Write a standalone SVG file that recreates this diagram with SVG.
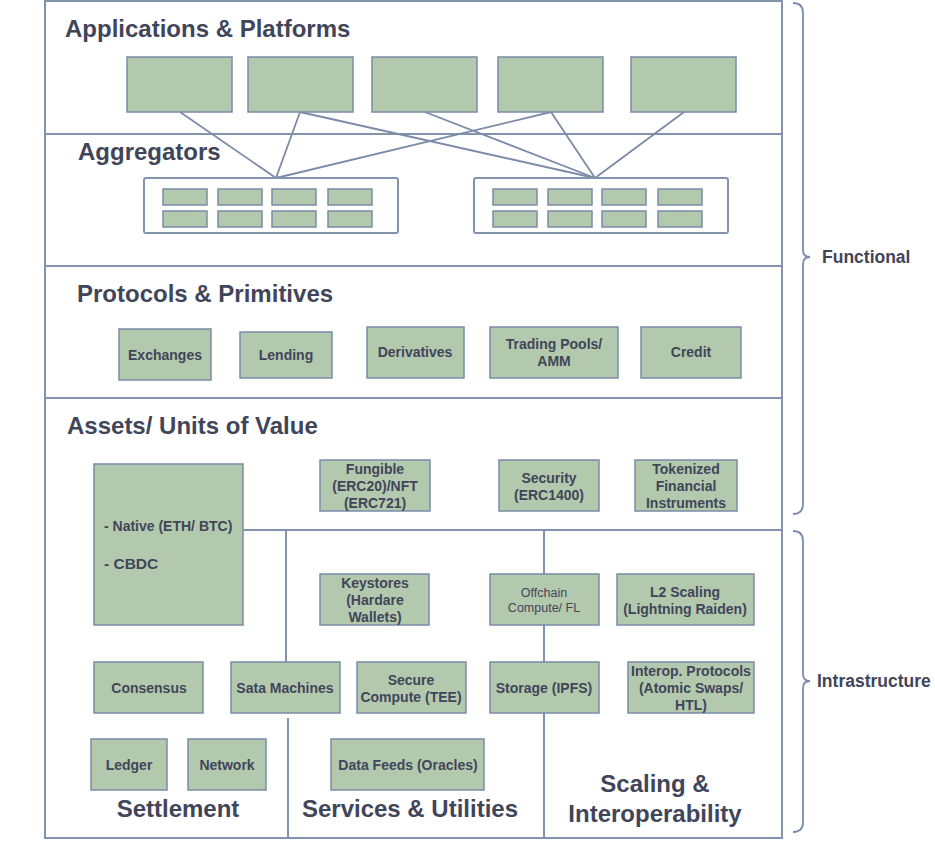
<svg xmlns="http://www.w3.org/2000/svg" width="935" height="844" viewBox="0 0 935 844">
<style>
.frame{fill:none;stroke:#8393ad;stroke-width:2}
.box{fill:#b3c9ad;stroke:#7b8ba8;stroke-width:1.5}
.cont{fill:#fff;stroke:#8393ad;stroke-width:2}
.ln{fill:none;stroke:#7b8ba8;stroke-width:1.8}
.h{font-family:"Liberation Sans",Arial,sans-serif;font-weight:bold;font-size:24px;fill:#41455a}
.t{font-family:"Liberation Sans",Arial,sans-serif;font-weight:bold;font-size:14px;fill:#41455a;text-anchor:middle}
.n{font-family:"Liberation Sans",Arial,sans-serif;font-size:12.5px;fill:#41455a;text-anchor:middle}
.s{font-family:"Liberation Sans",Arial,sans-serif;font-weight:bold;font-size:24px;fill:#41455a;text-anchor:middle}
.side{font-family:"Liberation Sans",Arial,sans-serif;font-weight:bold;font-size:17.5px;fill:#41455a}
</style>
<rect width="935" height="844" fill="#fff"/>
<g id="frame">
<rect class="frame" x="45" y="1" width="737" height="837"/>
<line class="frame" x1="45" y1="134" x2="782" y2="134"/>
<line class="frame" x1="45" y1="266" x2="782" y2="266"/>
<line class="frame" x1="45" y1="398" x2="782" y2="398"/>
<line class="frame" x1="243" y1="530" x2="782" y2="530"/>
<line class="frame" x1="286" y1="530" x2="286" y2="662"/>
<line class="frame" x1="288" y1="718" x2="288" y2="838"/>
<line class="frame" x1="544" y1="530" x2="544" y2="574"/>
<line class="frame" x1="544" y1="625" x2="544" y2="662"/>
<line class="frame" x1="544" y1="713" x2="544" y2="838"/>
</g>
<g id="headings">
<text class="h" x="65" y="37">Applications &amp; Platforms</text>
<text class="h" x="78" y="160">Aggregators</text>
<text class="h" x="77" y="302">Protocols &amp; Primitives</text>
<text class="h" x="67" y="434">Assets/ Units of Value</text>
<text class="s" x="178" y="817">Settlement</text>
<text class="s" x="410" y="817">Services &amp; Utilities</text>
<text class="s" x="655" y="792">Scaling &amp;</text>
<text class="s" x="655" y="822">Interoperability</text>
</g>
<g id="connectors">
<line class="ln" x1="180" y1="112" x2="276" y2="178"/>
<line class="ln" x1="300" y1="112" x2="276" y2="178"/>
<line class="ln" x1="300" y1="112" x2="595" y2="178"/>
<line class="ln" x1="425" y1="112" x2="595" y2="178"/>
<line class="ln" x1="551" y1="112" x2="276" y2="178"/>
<line class="ln" x1="551" y1="112" x2="595" y2="178"/>
<line class="ln" x1="684" y1="112" x2="595" y2="178"/>
</g>
<g id="apps">
<rect class="box" x="127" y="57" width="105" height="55"/>
<rect class="box" x="248" y="57" width="105" height="55"/>
<rect class="box" x="372" y="57" width="105" height="55"/>
<rect class="box" x="498" y="57" width="105" height="55"/>
<rect class="box" x="631" y="57" width="105" height="55"/>
</g>
<g id="aggregator-left">
<rect class="cont" x="144" y="178" width="254" height="55" rx="2"/>
<rect class="box" x="163" y="189" width="44" height="16"/>
<rect class="box" x="218" y="189" width="44" height="16"/>
<rect class="box" x="272" y="189" width="44" height="16"/>
<rect class="box" x="328" y="189" width="44" height="16"/>
<rect class="box" x="163" y="211" width="44" height="16"/>
<rect class="box" x="218" y="211" width="44" height="16"/>
<rect class="box" x="272" y="211" width="44" height="16"/>
<rect class="box" x="328" y="211" width="44" height="16"/>
</g>
<g id="aggregator-right">
<rect class="cont" x="474" y="178" width="254" height="55" rx="2"/>
<rect class="box" x="493" y="189" width="44" height="16"/>
<rect class="box" x="548" y="189" width="44" height="16"/>
<rect class="box" x="602" y="189" width="44" height="16"/>
<rect class="box" x="658" y="189" width="44" height="16"/>
<rect class="box" x="493" y="211" width="44" height="16"/>
<rect class="box" x="548" y="211" width="44" height="16"/>
<rect class="box" x="602" y="211" width="44" height="16"/>
<rect class="box" x="658" y="211" width="44" height="16"/>
</g>
<g id="exchanges"><rect class="box" x="119" y="329" width="92" height="51"/><text class="t" x="165" y="360">Exchanges</text></g>
<g id="lending"><rect class="box" x="240" y="332" width="92" height="46"/><text class="t" x="286" y="360">Lending</text></g>
<g id="derivatives"><rect class="box" x="367" y="327" width="97" height="51"/><text class="t" x="415" y="357">Derivatives</text></g>
<g id="trading-pools"><rect class="box" x="490" y="327" width="128" height="51"/><text class="t" x="554" y="349">Trading Pools/</text><text class="t" x="554" y="366">AMM</text></g>
<g id="credit"><rect class="box" x="641" y="327" width="100" height="51"/><text class="t" x="691" y="357">Credit</text></g>
<g id="native"><rect class="box" x="94" y="464" width="149" height="161"/><text class="t" x="104" y="531" style="text-anchor:start">- Native (ETH/ BTC)</text><text class="t" x="104" y="569" style="text-anchor:start;font-size:15.5px">- CBDC</text></g>
<g id="fungible"><rect class="box" x="320" y="460" width="110" height="51"/><text class="t" x="375" y="474">Fungible</text><text class="t" x="375" y="491">(ERC20)/NFT</text><text class="t" x="375" y="508">(ERC721)</text></g>
<g id="security"><rect class="box" x="499" y="460" width="100" height="51"/><text class="t" x="549" y="483">Security</text><text class="t" x="549" y="500">(ERC1400)</text></g>
<g id="tokenized"><rect class="box" x="635" y="460" width="102" height="51"/><text class="t" x="686" y="474">Tokenized</text><text class="t" x="686" y="491">Financial</text><text class="t" x="686" y="508">Instruments</text></g>
<g id="keystores"><rect class="box" x="320" y="574" width="109" height="51"/><text class="t" x="375" y="588">Keystores</text><text class="t" x="375" y="605">(Hardare</text><text class="t" x="375" y="622">Wallets)</text></g>
<g id="offchain"><rect class="box" x="490" y="574" width="109" height="51"/><text class="n" x="544" y="597">Offchain</text><text class="n" x="544" y="612">Compute/ FL</text></g>
<g id="l2"><rect class="box" x="617" y="574" width="137" height="51"/><text class="t" x="685" y="597">L2 Scaling</text><text class="t" x="685" y="614">(Lightning Raiden)</text></g>
<g id="consensus"><rect class="box" x="94" y="662" width="109" height="51"/><text class="t" x="149" y="693">Consensus</text></g>
<g id="sata"><rect class="box" x="231" y="662" width="109" height="51"/><text class="t" x="285" y="693">Sata Machines</text></g>
<g id="secure"><rect class="box" x="357" y="662" width="109" height="51"/><text class="t" x="411" y="685">Secure</text><text class="t" x="411" y="702">Compute (TEE)</text></g>
<g id="storage"><rect class="box" x="490" y="662" width="109" height="51"/><text class="t" x="544" y="693">Storage (IPFS)</text></g>
<g id="interop"><rect class="box" x="628" y="662" width="126" height="51"/><text class="t" x="691" y="676">Interop. Protocols</text><text class="t" x="691" y="693">(Atomic Swaps/</text><text class="t" x="691" y="710">HTL)</text></g>
<g id="ledger"><rect class="box" x="91" y="739" width="76" height="51"/><text class="t" x="129" y="770">Ledger</text></g>
<g id="network"><rect class="box" x="188" y="739" width="78" height="51"/><text class="t" x="227" y="770">Network</text></g>
<g id="datafeeds"><rect class="box" x="331" y="739" width="153" height="51"/><text class="t" x="408" y="770">Data Feeds (Oracles)</text></g>
<g id="functional">
<path class="ln" d="M793,3 Q803,3 803,13 L803,250 Q803,257 810,257 Q803,257 803,264 L803,504 Q803,514 793,514"/>
<text class="side" x="822" y="263">Functional</text>
</g>
<g id="infrastructure">
<path class="ln" d="M793,531 Q803,531 803,541 L803,674 Q803,681 810,681 Q803,681 803,688 L803,822 Q803,832 793,832"/>
<text class="side" x="817" y="687">Intrastructure</text>
</g>
</svg>
